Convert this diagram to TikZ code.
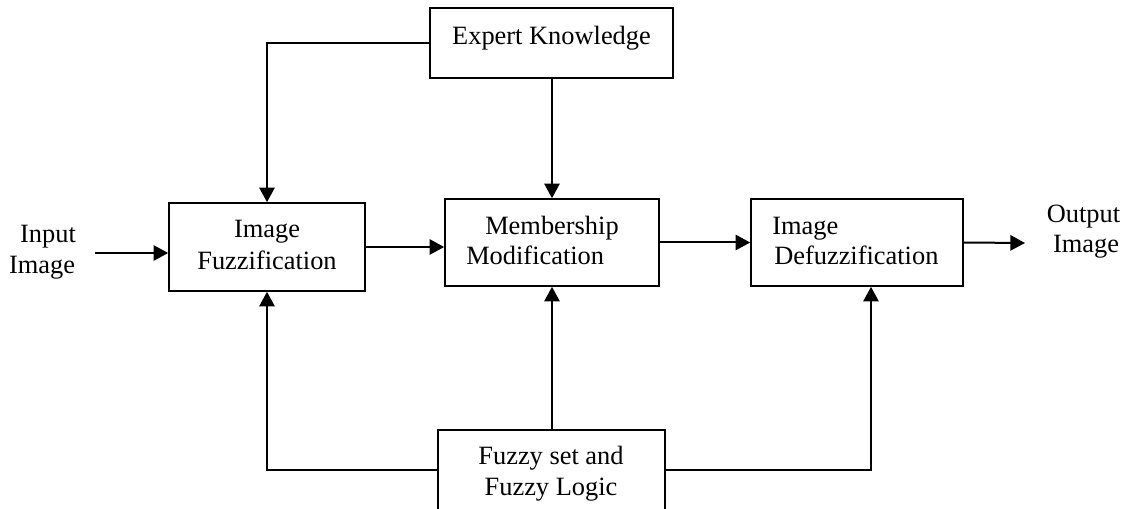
\documentclass[tikz,border=0pt]{standalone}
\usepackage{fontspec}
\setmainfont{Liberation Serif}
\usetikzlibrary{arrows.meta}
\begin{document}
\begin{tikzpicture}[x=0.75pt,y=-0.75pt,
  box/.style={draw, line width=1.2pt, inner sep=0pt},
  conn/.style={line width=1.5pt, -{Triangle[length=11pt,width=11.5pt]}},
  link/.style={line width=1.5pt},
  txt/.style={inner sep=0pt, anchor=base, font=\fontsize{19.8pt}{24pt}\selectfont},
  txtw/.style={txt, anchor=base west}]
\useasboundingbox (0,0) rectangle (1131,509);
\clip (0,0) rectangle (1131,509);
% boxes
\node[box, minimum width=182.25pt, minimum height=52.5pt] (ek) at (551.5,43) {};
\node[box, minimum width=147pt, minimum height=66pt] (fz) at (267,247) {};
\node[box, minimum width=160.5pt, minimum height=65.25pt] (mm) at (552,242.5) {};
\node[box, minimum width=159pt, minimum height=65.25pt] (df) at (857,242.5) {};
\node[box, minimum width=170.25pt, minimum height=63pt] (fl) at (551.5,472) {};
% texts
\node[txt] (ekt) at (551.5,45) {Expert Knowledge};
\node[txt] (fzt1) at (267,237.7) {Image};
\node[txt] (fzt2) at (267,270) {Fuzzification};
\node[txtw] (mmt1) at (485,235) {Membership};
\node[txtw] (mmt2) at (466,265) {Modification};
\node[txtw] (dft1) at (772,234.3) {Image};
\node[txtw] (dft2) at (774,265) {Defuzzification};
\node[txt] (flt1) at (551,464) {Fuzzy set and};
\node[txt] (flt2) at (551,495) {Fuzzy Logic};
\node[txt] (in1) at (48,243) {Input};
\node[txt] (in2) at (42,274) {Image};
\node[txt] (out1) at (1083.5,223) {Output};
\node[txt] (out2) at (1086,253) {Image};
% free ends
\coordinate (inp) at (95,253);
\coordinate (outp) at (1025,243);
% connectors
\draw[conn] (ek.west) -| (fz.north);
\draw[conn] (ek.south -| mm.north) -- (mm.north);
\draw[conn] (inp) -- (inp -| fz.west);
\draw[conn] (fz.east) -- (fz.east -| mm.west);
\draw[conn] (mm.east) -- (df.west);
\draw[conn] (df.east) -- (outp);
\draw[conn] (fl.west |- 0,470) -| (fz.south);
\draw[conn] (fl.north) -- (fl.north -| mm.south) -- (mm.south);
\draw[conn] (fl.east |- 0,470) -| (871,0 |- df.south);
\end{tikzpicture}
\end{document}
